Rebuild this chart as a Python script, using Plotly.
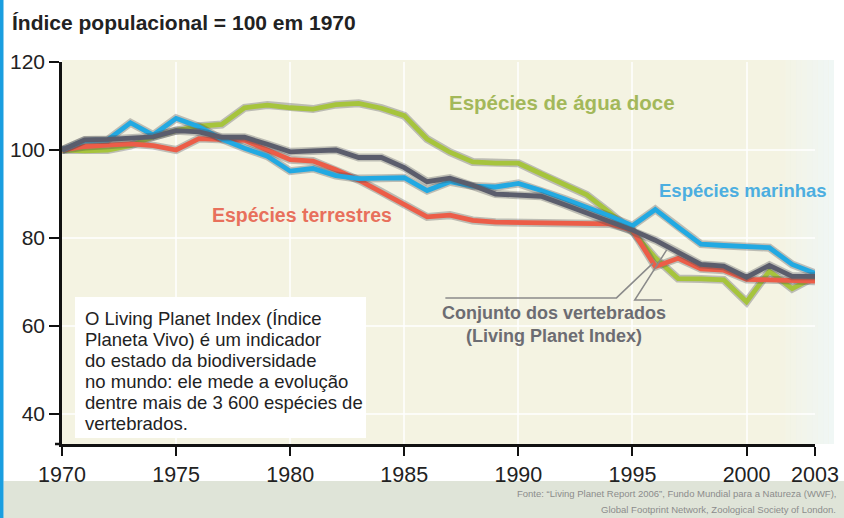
import plotly.graph_objects as go

years = list(range(1970, 2004))

agua_doce = [100, 99.8, 100, 101, 103, 104.4, 105.4, 105.8, 109.6, 110.2,
             109.6, 109.3, 110.3, 110.6, 109.5, 107.8, 102.5, 99.5, 97.3, 97.0,
             97.0, 94.5, 92.0, 89.8, 85.8, 81.5, 75.5, 70.8, 70.7, 70.5,
             65.5, 72.5, 68.5, 71.2]

terrestres = [100, 100.8, 101.1, 101.4, 101.0, 100.0, 102.6, 102.3, 102.2, 100.0,
              97.8, 97.5, 95.5, 93.2, 90.5, 87.6, 84.8, 85.2, 84.0, 83.6,
              83.5, 83.5, 83.4, 83.4, 83.2, 81.8, 73.5, 75.4, 73.0, 72.7,
              70.6, 70.5, 70.4, 70.2]

marinhas = [100, 102.2, 102.3, 106.2, 103.4, 107.2, 105.3, 102.5, 100.4, 98.6,
            95.2, 95.8, 94.2, 93.5, 93.6, 93.7, 90.8, 92.8, 91.8, 91.6,
            92.4, 90.8, 88.9, 87.0, 85.0, 82.8, 86.5, 82.5, 78.6, 78.3,
            78.1, 77.8, 74.0, 72.0]

lpi = [100, 102.3, 102.4, 102.6, 103.0, 104.4, 104.1, 102.9, 102.9, 101.3,
       99.6, 99.8, 100.0, 98.3, 98.3, 96.0, 92.8, 93.6, 92.0, 90.0,
       89.7, 89.5, 87.6, 85.6, 83.7, 81.8, 79.5, 76.8, 74.0, 73.6,
       71.1, 73.8, 71.3, 71.3]

x_ticks = [1970, 1975, 1980, 1985, 1990, 1995, 2000, 2003]
y_ticks = [40, 60, 80, 100, 120]

info_lines = ["O Living Planet Index (Índice",
              "Planeta Vivo) é um indicador",
              "do estado da biodiversidade",
              "no mundo: ele mede a evolução",
              "dentre mais de 3 600 espécies de",
              "vertebrados."]

source_lines = ["Fonte: “Living Planet Report 2006”, Fundo Mundial para a Natureza (WWF),",
                "Global Footprint Network, Zoological Society of London."]

series = [
    ("Espécies de água doce", agua_doce, "#a6c43c"),
    ("Espécies terrestres", terrestres, "#ec5d48"),
    ("Espécies marinhas", marinhas, "#22a9e2"),
    ("Conjunto dos vertebrados", lpi, "#5b5d6c"),
]

W, H = 844, 518
L, R, T, B = 62, 29, 62, 74
PW, PH = W - L - R, H - T - B


def px(xp):
    return (xp - L) / PW


def py(yp):
    return (H - B - yp) / PH


fig = go.Figure()
for name, vals, col in series:
    fig.add_trace(go.Scatter(x=years, y=vals, mode="lines",
                             line=dict(color="rgba(70,70,80,0.32)", width=8),
                             hoverinfo="skip", showlegend=False))
    fig.add_trace(go.Scatter(x=years, y=vals, mode="lines", name=name,
                             line=dict(color=col, width=4.8), showlegend=False))

shapes = []
shapes.append(dict(type="rect", xref="paper", yref="paper", x0=0, x1=px(834), y0=0, y1=py(60),
                   fillcolor="#f4f3e2", line=dict(width=0), layer="below"))
n = 10
fx0, fx1 = px(780), px(834)
for i in range(n):
    a = (i + 1) / n * 0.85
    shapes.append(dict(type="rect", xref="paper", yref="paper",
                       x0=fx0 + i * (fx1 - fx0) / n, x1=fx0 + (i + 1) * (fx1 - fx0) / n,
                       y0=0, y1=py(60),
                       fillcolor="rgba(238,247,248,%.3f)" % a, line=dict(width=0), layer="below"))
shapes.append(dict(type="line", xref="paper", yref="paper", x0=px(55), x1=0, y0=0, y1=0,
                   line=dict(color="#111", width=2.5)))
shapes.append(dict(type="rect", xref="paper", yref="paper", x0=px(75), x1=px(366), y0=py(438), y1=py(297),
                   fillcolor="white", line=dict(width=0)))
shapes.append(dict(type="path", xref="x", yref="y",
                   path="M 1986.8 66.4 L 1994.3 66.4 L 1995.9 74.3",
                   line=dict(color="#8a8a8a", width=1.5)))
shapes.append(dict(type="path", xref="x", yref="y",
                   path="M 1996.3 65.9 L 1995.1 65.9 L 1996.5 77.3",
                   line=dict(color="#8a8a8a", width=1.5)))
shapes.append(dict(type="rect", xref="paper", yref="paper", x0=px(0), x1=px(3.5), y0=py(518), y1=py(0),
                   fillcolor="#1a9ee0", line=dict(width=0)))
shapes.append(dict(type="rect", xref="paper", yref="paper", x0=px(3.5), x1=px(844), y0=py(518), y1=py(481),
                   fillcolor="#dfe4d8", line=dict(width=0), layer="below"))

lab_font = "Liberation Sans, Arial, sans-serif"
annotations = [
    dict(text="<b>Espécies de água doce</b>", x=px(447), y=py(102), xref="paper", yref="paper",
         xanchor="left", yanchor="middle", showarrow=False,
         font=dict(family=lab_font, size=20.5, color="#a3b85a")),
    dict(text="<b>Espécies marinhas</b>", x=px(657), y=py(190), xref="paper", yref="paper",
         xanchor="left", yanchor="middle", showarrow=False,
         font=dict(family=lab_font, size=18.5, color="#4caee0")),
    dict(text="<b>Espécies terrestres</b>", x=px(210), y=py(215), xref="paper", yref="paper",
         xanchor="left", yanchor="middle", showarrow=False,
         font=dict(family=lab_font, size=19.5, color="#e8705c")),
    dict(text="<b>Conjunto dos vertebrados</b>", x=px(554), y=py(313), xref="paper", yref="paper",
         xanchor="center", yanchor="middle", showarrow=False,
         font=dict(family=lab_font, size=18, color="#6c6c72")),
    dict(text="<b>(Living Planet Index)</b>", x=px(554), y=py(336), xref="paper", yref="paper",
         xanchor="center", yanchor="middle", showarrow=False,
         font=dict(family=lab_font, size=18, color="#6c6c72")),
]
for i, line in enumerate(info_lines):
    annotations.append(dict(text=line, x=px(83), y=py(318 + 21 * i), xref="paper", yref="paper",
                            xanchor="left", yanchor="middle", showarrow=False,
                            font=dict(family=lab_font, size=18.5, color="#222")))
for i, line in enumerate(source_lines):
    annotations.append(dict(text=line, x=px(838), y=py(493 + 16 * i), xref="paper", yref="paper",
                            xanchor="right", yanchor="middle", showarrow=False,
                            font=dict(family=lab_font, size=9.5, color="#8c8c8c")))

fig.update_layout(
    width=W, height=H,
    margin=dict(l=L, r=R, t=T, b=B, autoexpand=False),
    paper_bgcolor="white", plot_bgcolor="rgba(0,0,0,0)",
    title=dict(text="<b>Índice populacional = 100 em 1970</b>", x=12 / W, xanchor="left",
               xref="container", y=1 - 23 / H, yanchor="middle",
               font=dict(family=lab_font, size=21, color="#222")),
    shapes=shapes, annotations=annotations,
    xaxis=dict(range=[1970, 2003], tickvals=x_ticks, ticktext=[str(t) for t in x_ticks],
               showline=True, linecolor="#111", linewidth=2.5, automargin=False,
               ticks="outside", ticklen=9, tickwidth=2, tickcolor="#111",
               showgrid=True, gridcolor="rgba(255,255,255,0.75)", gridwidth=1.5, zeroline=False,
               tickfont=dict(family=lab_font, size=21.5, color="#222")),
    yaxis=dict(range=[33.2, 120], tickvals=y_ticks,
               showline=True, linecolor="#111", linewidth=2.5, automargin=False,
               ticks="outside", ticklen=10, tickwidth=2, tickcolor="#111",
               showgrid=True, gridcolor="rgba(255,255,255,0.75)", gridwidth=1.5, zeroline=False,
               tickfont=dict(family=lab_font, size=21, color="#222")),
)

fig.write_html("out.html", post_script="document.body.style.margin='0';",
               config={"displayModeBar": False})
